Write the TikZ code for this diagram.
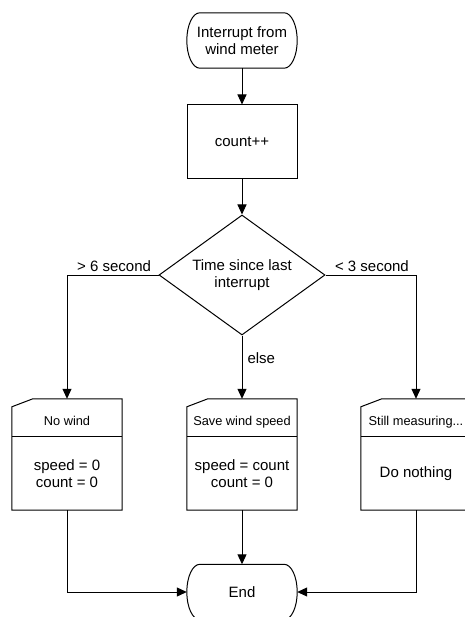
\documentclass[tikz,border=0pt]{standalone}
\usepackage{fontspec}
\setmainfont{Liberation Sans}
\usetikzlibrary{arrows.meta,shapes.geometric,calc}
\tikzset{
 base/.style={font=\fontsize{15}{17.5}\selectfont, align=center, inner sep=0pt},
 term/.style={base, minimum width=110pt, minimum height=55pt},
 proc/.style={base, draw, line width=1pt, minimum width=110pt, minimum height=74pt},
 decision/.style={base, draw, line width=1pt, shape=diamond, aspect=1.38, minimum width=166pt, minimum height=120pt},
 cardhead/.style={font=\fontsize{12.8}{15}\selectfont, inner sep=0pt, minimum width=110pt, minimum height=38pt, text height=15.5pt, text depth=0pt},
 cardbody/.style={base, minimum width=110pt, minimum height=73pt},
 lbl/.style={font=\fontsize{15}{17.5}\selectfont, inner sep=0pt},
 outline/.style={draw, line width=1pt},
 arr/.style={line width=1pt, -{Triangle[length=10pt,width=9pt]}},
}
\newcommand\termpath[1]{%
 \draw[outline] ($(#1.north west)+(13,0)$) -- ($(#1.north east)+(-13,0)$)
   .. controls +(7.2,0) and +(0,-15.2) .. (#1.east)
   .. controls +(0,15.2) and +(7.2,0) .. ($(#1.south east)+(-13,0)$)
   -- ($(#1.south west)+(13,0)$)
   .. controls +(-7.2,0) and +(0,15.2) .. (#1.west)
   .. controls +(0,-15.2) and +(-7.2,0) .. ($(#1.north west)+(13,0)$) -- cycle;}
\newcommand\card[4]{%
 \node[cardbody] (#1) at (#2,473.5) {#4};
 \node[cardhead] (#1h) at (#2,418) {#3};
 \draw[outline] (#1.north west) -- (#1.north east);
 \draw[outline] ($(#1h.north west)+(0,8)$) -- ($(#1h.north west)+(21,0)$) -- (#1h.north east) -- (#1.south east) -- (#1.south west) -- cycle;}
\begin{document}
\begin{tikzpicture}[x=1pt,y=-1pt]
\useasboundingbox (0,0) rectangle (464,617);
\node[term] (start) at (242,40.5) {Interrupt from\\wind meter};
\termpath{start}
\node[proc] (count) at (242,142) {count++};
\node[decision] (dec) at (242,275) {Time since last\\interrupt};
\card{nowind}{67}{No wind}{speed = 0\\count = 0}
\card{savew}{242}{Save wind speed}{speed = count\\count = 0}
\card{still}{416}{Still measuring...}{Do nothing}
\node[term] (end) at (242,592) {End};
\termpath{end}
\draw[arr] (start) -- (count);
\draw[arr] (count) -- (dec);
\draw[arr] (dec.west) node[lbl, anchor=south east, xshift=-7pt, inner ysep=3pt] {> 6 second} -| (nowindh.north);
\draw[arr] (dec.east) node[lbl, anchor=south west, xshift=9pt, inner ysep=3pt] {< 3 second} -| (stillh.north);
\draw[arr] (dec.south) -- node[lbl, pos=0.36, anchor=west, xshift=5pt] {else} (savewh.north);
\draw[arr] (nowind.south) |- (end.west);
\draw[arr] (savew.south) -- (end.north);
\draw[arr] (still.south) |- (end.east);
\end{tikzpicture}
\end{document}
